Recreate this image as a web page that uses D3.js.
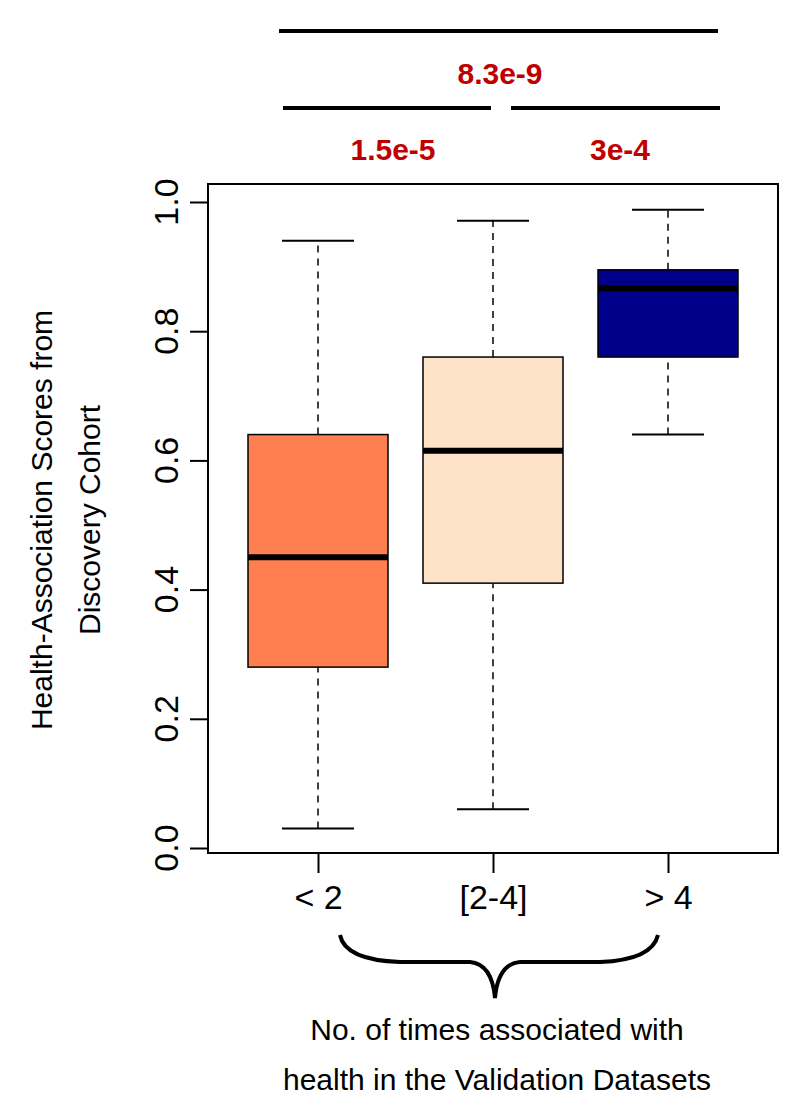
<!DOCTYPE html><html><head><meta charset="utf-8"><script src="https://cdn.jsdelivr.net/npm/d3@7"></script>
<style>body{margin:0;background:#fff}</style></head><body><svg id="c" width="801" height="1116"></svg><script>
const categories=["< 2","[2-4]","> 4"];
const whiskerLow=[0.03,0.06,0.64];
const q1=[0.28,0.41,0.76];
const medians=[0.45,0.615,0.866];
const q3=[0.64,0.76,0.895];
const whiskerHigh=[0.94,0.971,0.988];
const fills=["#FF7F50","#FCE2C6","#00008B"];
const yTicks=[0,0.2,0.4,0.6,0.8,1.0];
const pvals=[{from:0,to:2,label:"8.3e-9",level:0},{from:0,to:1,label:"1.5e-5",level:1},{from:1,to:2,label:"3e-4",level:1}];
const svg=d3.select("#c");
const F="Liberation Sans, Arial, sans-serif";
const y=d3.scaleLinear().domain([0,1]).range([848,202]);
const x=d3.scalePoint().domain(categories).range([318,668]);
svg.append("rect").attr("x",208).attr("y",184).attr("width",570).attr("height",669).attr("fill","none").attr("stroke","#000").attr("stroke-width",2);
const ya=svg.append("g").attr("transform","translate(208,0)").call(d3.axisLeft(y).tickValues(yTicks).tickFormat(d3.format(".1f")).tickSize(18).tickSizeOuter(0));
ya.select(".domain").remove();
ya.selectAll("line").attr("stroke-width",2);
ya.selectAll("text").remove();
yTicks.forEach(t=>svg.append("text").attr("transform",`translate(178,${y(t)}) rotate(-90)`).attr("text-anchor","middle").attr("font-family",F).attr("font-size",34).text(d3.format(".1f")(t)));
const xa=svg.append("g").attr("transform","translate(0,853)").call(d3.axisBottom(x).tickSize(20).tickSizeOuter(0));
xa.select(".domain").remove();xa.selectAll("line").attr("stroke-width",2);
xa.selectAll("text").attr("font-family",F).attr("font-size",34).attr("fill","#000").attr("dy","0.71em").attr("y",32);
const bw=140,cw=72;
categories.forEach((c,i)=>{const cx=x(c);const g=svg.append("g");
g.append("line").attr("x1",cx).attr("x2",cx).attr("y1",y(whiskerLow[i])).attr("y2",y(q1[i])).attr("stroke","#000").attr("stroke-width",1.5).attr("stroke-dasharray","7,6");
g.append("line").attr("x1",cx).attr("x2",cx).attr("y1",y(q3[i])).attr("y2",y(whiskerHigh[i])).attr("stroke","#000").attr("stroke-width",1.5).attr("stroke-dasharray","7,6");
[whiskerLow[i],whiskerHigh[i]].forEach(v=>g.append("line").attr("x1",cx-cw/2).attr("x2",cx+cw/2).attr("y1",y(v)).attr("y2",y(v)).attr("stroke","#000").attr("stroke-width",2));
g.append("rect").attr("x",cx-bw/2).attr("y",y(q3[i])).attr("width",bw).attr("height",y(q1[i])-y(q3[i])).attr("fill",fills[i]).attr("stroke","#000").attr("stroke-width",1.5);
g.append("line").attr("x1",cx-bw/2).attr("x2",cx+bw/2).attr("y1",y(medians[i])).attr("y2",y(medians[i])).attr("stroke","#000").attr("stroke-width",6);});
const lvlY=[31,108],lblY=[84,160];
pvals.forEach(p=>{let x1,x2;
if(p.level===1){ if(p.from===0){x1=283;x2=491;} else {x1=511;x2=720;} } else {x1=279;x2=718;}
svg.append("line").attr("x1",x1).attr("x2",x2).attr("y1",lvlY[p.level]).attr("y2",lvlY[p.level]).attr("stroke","#000").attr("stroke-width",4);
const lx=p.level===0?500:(p.from===0?393:620);
svg.append("text").attr("x",lx).attr("y",lblY[p.level]).attr("text-anchor","middle").attr("font-family",F).attr("font-weight","bold").attr("font-size",30).attr("fill","#C00000").text(p.label);});
svg.append("path").attr("d","M340,935 Q345,960 400,962 L470,962 Q492,964 495,998 Q498,964 520,962 L600,962 Q652,960 658,935").attr("fill","none").attr("stroke","#000").attr("stroke-width",4);
svg.append("text").attr("transform","translate(52,520) rotate(-90)").attr("text-anchor","middle").attr("font-family",F).attr("font-size",30).text("Health-Association Scores from");
svg.append("text").attr("transform","translate(100,520) rotate(-90)").attr("text-anchor","middle").attr("font-family",F).attr("font-size",30).text("Discovery Cohort");
svg.append("text").attr("x",497).attr("y",1040).attr("text-anchor","middle").attr("font-family",F).attr("font-size",30).text("No. of times associated with");
svg.append("text").attr("x",497).attr("y",1090).attr("text-anchor","middle").attr("font-family",F).attr("font-size",30).text("health in the Validation Datasets");
</script></body></html>
